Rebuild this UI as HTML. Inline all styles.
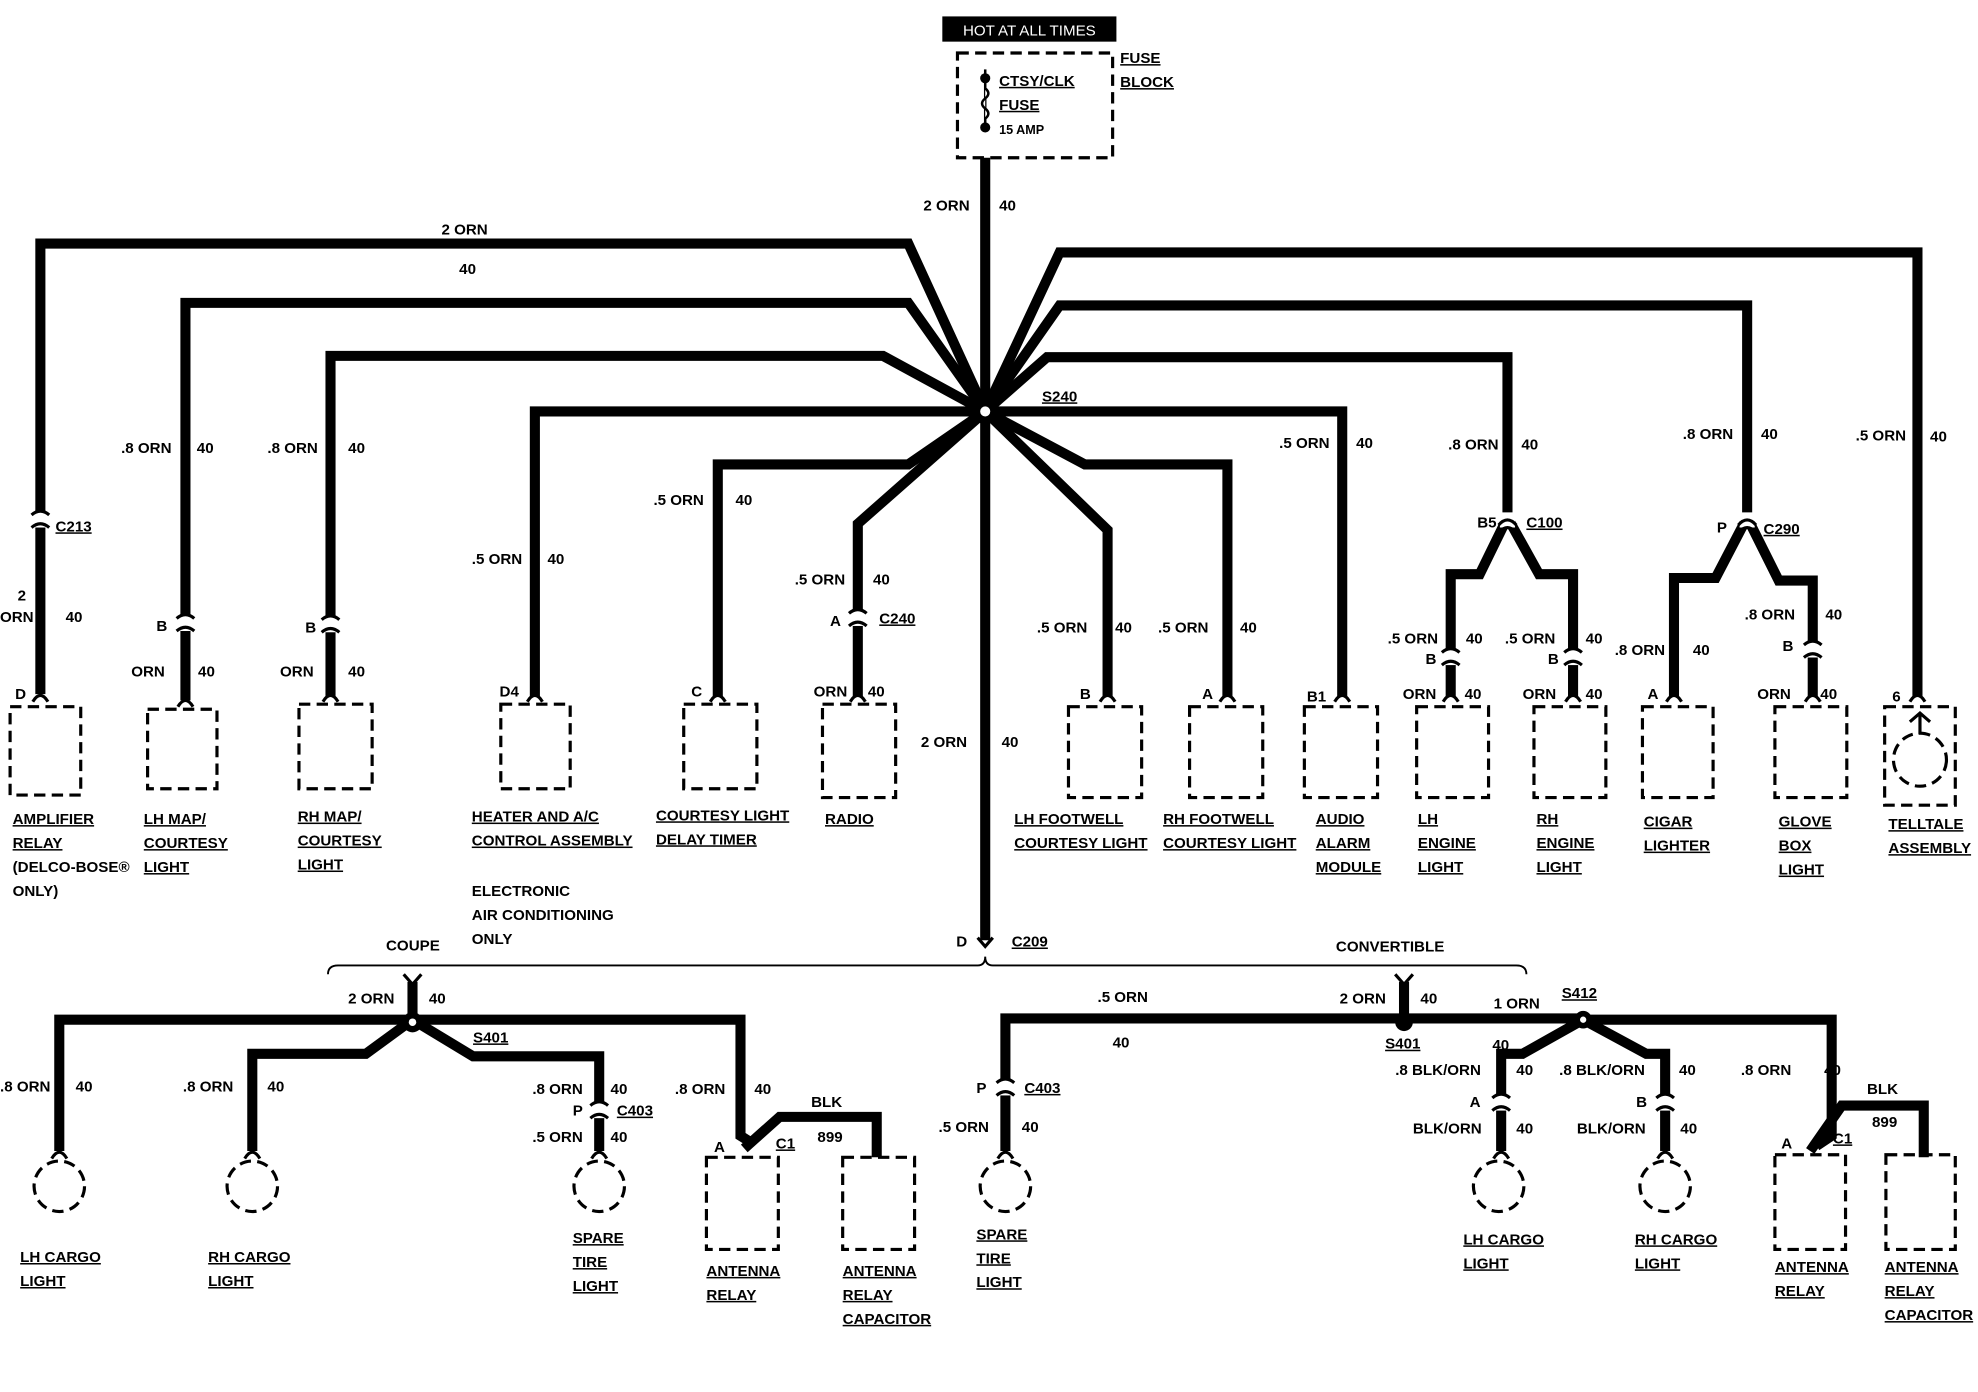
<!DOCTYPE html>
<html><head><meta charset="utf-8"><style>
html,body{margin:0;padding:0;background:#fff;}
svg{display:block;}
text{font-family:"Liberation Sans",sans-serif;font-weight:bold;font-size:12px;fill:#000;}
.w{fill:none;stroke:#000;stroke-width:8;stroke-linejoin:miter;}
.d{fill:none;stroke:#000;stroke-width:2.5;stroke-dasharray:9,5;}
.c{fill:none;stroke:#000;stroke-width:2.5;}
.u{text-decoration:underline;}
</style></head><body>
<svg width="1978" height="1392" viewBox="0 0 1568 1103" preserveAspectRatio="none" xmlns="http://www.w3.org/2000/svg">
<rect width="1568" height="1103" fill="#fff"/>
<!-- header -->
<rect x="747" y="13" width="138" height="20" fill="#000"/>
<text x="816" y="28" text-anchor="middle" style="fill:#fff;font-weight:normal;font-size:12px">HOT AT ALL TIMES</text>
<rect class="d" x="759" y="42" width="123" height="83"/>
<text x="888" y="50" class="u">FUSE</text><text x="888" y="69" class="u">BLOCK</text>
<line x1="781" y1="55" x2="781" y2="102" stroke="#000" stroke-width="2"/>
<circle cx="781" cy="62" r="4"/><circle cx="781" cy="101" r="4"/>
<path d="M781 70 q5 4 0 8 q-5 4 0 8 q5 4 0 8" fill="#fff" stroke="#000" stroke-width="2"/>
<text x="792" y="68" class="u">CTSY/CLK</text><text x="792" y="87" class="u">FUSE</text><text x="792" y="106" style="font-size:10px">15 AMP</text>
<!-- trunk -->
<path class="w" d="M781 125 V745"/>
<text x="732" y="167">2 ORN</text><text x="792" y="167">40</text>
<text x="730" y="592">2 ORN</text><text x="794" y="592">40</text>
<!-- left branches -->
<path class="w" d="M781 326 L720 193 H32 V550"/>
<path class="w" d="M781 326 L720 240 H147 V555"/>
<path class="w" d="M781 326 L700 282 H262 V552"/>
<path class="w" d="M781 326 H424 V552"/>
<path class="w" d="M781 326 L720 368 H569 V552"/>
<path class="w" d="M781 326 L680 415 V552"/>
<!-- right branches -->
<path class="w" d="M781 326 L840 200 H1520 V552"/>
<path class="w" d="M781 326 L840 242 H1385 V410 L1360 458 H1327 V552 M1385 410 L1410 460 H1437 V552"/>
<path class="w" d="M781 326 L830 283 H1195 V410 L1173 455 H1150 V552 M1195 410 L1220 455 H1247 V552"/>
<path class="w" d="M781 326 H1064 V552"/>
<path class="w" d="M781 326 L860 368 H973 V552"/>
<path class="w" d="M781 326 L878 420 V552"/>
<circle cx="781" cy="326" r="10" fill="#000"/><circle cx="781" cy="326" r="4" fill="#fff"/>
<text x="826" y="318" class="u">S240</text>
<!-- wire labels top -->
<text x="350" y="186">2 ORN</text><text x="364" y="217">40</text>
<text x="96" y="359">.8 ORN</text><text x="156" y="359">40</text>
<text x="212" y="359">.8 ORN</text><text x="276" y="359">40</text>
<text x="374" y="447">.5 ORN</text><text x="434" y="447">40</text>
<text x="518" y="400">.5 ORN</text><text x="583" y="400">40</text>
<text x="630" y="463">.5 ORN</text><text x="692" y="463">40</text>
<text x="822" y="501">.5 ORN</text><text x="884" y="501">40</text>
<text x="918" y="501">.5 ORN</text><text x="983" y="501">40</text>
<text x="1014" y="355">.5 ORN</text><text x="1075" y="355">40</text>
<text x="1148" y="356">.8 ORN</text><text x="1206" y="356">40</text>
<text x="1334" y="348">.8 ORN</text><text x="1396" y="348">40</text>
<text x="1471" y="349">.5 ORN</text><text x="1530" y="350">40</text>
<text x="14" y="476">2</text><text x="0" y="493">ORN</text><text x="52" y="493">40</text>
<text x="104" y="536">ORN</text><text x="157" y="536">40</text>
<text x="222" y="536">ORN</text><text x="276" y="536">40</text>
<text x="645" y="552">ORN</text><text x="688" y="552">40</text>
<text x="1100" y="510">.5 ORN</text><text x="1162" y="510">40</text>
<text x="1193" y="510">.5 ORN</text><text x="1257" y="510">40</text>
<text x="1112" y="554">ORN</text><text x="1161" y="554">40</text>
<text x="1207" y="554">ORN</text><text x="1257" y="554">40</text>
<text x="1280" y="519">.8 ORN</text><text x="1342" y="519">40</text>
<text x="1383" y="491">.8 ORN</text><text x="1447" y="491">40</text>
<text x="1393" y="554">ORN</text><text x="1443" y="554">40</text>
<!-- connectors top -->
<g fill="#fff" stroke="#000" stroke-width="2.5">
<rect x="26" y="406" width="12" height="12" stroke="none"/><path class="c" d="M25 408 Q32 402 39 408 M25 418 Q32 412 39 418"/>
<rect x="141" y="488" width="12" height="12" stroke="none"/><path class="c" d="M140 490 Q147 484 154 490 M140 500 Q147 494 154 500"/>
<rect x="256" y="489" width="12" height="12" stroke="none"/><path class="c" d="M255 491 Q262 485 269 491 M255 501 Q262 495 269 501"/>
<rect x="674" y="484" width="12" height="12" stroke="none"/><path class="c" d="M673 486 Q680 480 687 486 M673 496 Q680 490 687 496"/>
<rect x="1189" y="406" width="12" height="12" stroke="none"/><path class="c" d="M1188 416 Q1195 408 1202 416 M1188 422 Q1195 414 1202 422"/>
<rect x="1379" y="406" width="12" height="12" stroke="none"/><path class="c" d="M1378 416 Q1385 408 1392 416 M1378 422 Q1385 414 1392 422"/>
<rect x="1144" y="515" width="12" height="12" stroke="none"/><path class="c" d="M1143 517 Q1150 511 1157 517 M1143 527 Q1150 521 1157 527"/>
<rect x="1241" y="515" width="12" height="12" stroke="none"/><path class="c" d="M1240 517 Q1247 511 1254 517 M1240 527 Q1247 521 1254 527"/>
<rect x="1431" y="509" width="12" height="12" stroke="none"/><path class="c" d="M1430 511 Q1437 505 1444 511 M1430 521 Q1437 515 1444 521"/>
</g>
<text x="44" y="421" class="u">C213</text>
<text x="124" y="500">B</text><text x="242" y="501">B</text>
<text x="658" y="496">A</text><text x="697" y="494" class="u">C240</text>
<text x="1171" y="418">B5</text><text x="1210" y="418" class="u">C100</text>
<text x="1361" y="422">P</text><text x="1398" y="423" class="u">C290</text>
<text x="1130" y="526">B</text><text x="1227" y="526">B</text><text x="1413" y="516">B</text>
<!-- box terminals -->
<g class="c">
<path d="M26 556 Q32 546 38 556"/><path d="M141 560 Q147 550 153 560"/><path d="M256 556 Q262 546 268 556"/>
<path d="M418 556 Q424 546 430 556"/><path d="M563 556 Q569 546 575 556"/><path d="M674 556 Q680 546 686 556"/>
<path d="M872 556 Q878 546 884 556"/><path d="M967 556 Q973 546 979 556"/><path d="M1058 556 Q1064 546 1070 556"/>
<path d="M1144 556 Q1150 546 1156 556"/><path d="M1241 556 Q1247 546 1253 556"/><path d="M1321 556 Q1327 546 1333 556"/>
<path d="M1431 556 Q1437 546 1443 556"/><path d="M1514 556 Q1520 546 1526 556"/>
</g>
<text x="12" y="554">D</text><text x="396" y="552">D4</text><text x="548" y="552">C</text>
<text x="856" y="554">B</text><text x="953" y="554">A</text><text x="1036" y="556">B1</text>
<text x="1306" y="554">A</text><text x="1500" y="556">6</text>
<!-- boxes -->
<rect class="d" x="8" y="560" width="56" height="70"/>
<rect class="d" x="117" y="562" width="55" height="63"/>
<rect class="d" x="237" y="558" width="58" height="67"/>
<rect class="d" x="397" y="558" width="55" height="67"/>
<rect class="d" x="542" y="558" width="58" height="67"/>
<rect class="d" x="652" y="558" width="58" height="74"/>
<rect class="d" x="847" y="560" width="58" height="72"/>
<rect class="d" x="943" y="560" width="58" height="72"/>
<rect class="d" x="1034" y="560" width="58" height="72"/>
<rect class="d" x="1123" y="560" width="57" height="72"/>
<rect class="d" x="1216" y="560" width="57" height="72"/>
<rect class="d" x="1302" y="560" width="56" height="72"/>
<rect class="d" x="1407" y="560" width="57" height="72"/>
<rect class="d" x="1494" y="560" width="56" height="78"/>
<circle class="d" cx="1522" cy="602" r="21"/>
<path class="c" d="M1522 565 V582 M1514 572 L1522 565 L1530 572"/>
<!-- box labels -->
<g class="u">
<text x="10" y="653">AMPLIFIER</text><text x="10" y="672">RELAY</text>
<text x="114" y="653">LH MAP/</text><text x="114" y="672">COURTESY</text><text x="114" y="691">LIGHT</text>
<text x="236" y="651">RH MAP/</text><text x="236" y="670">COURTESY</text><text x="236" y="689">LIGHT</text>
<text x="374" y="651">HEATER AND A/C</text><text x="374" y="670">CONTROL ASSEMBLY</text>
<text x="520" y="650">COURTESY LIGHT</text><text x="520" y="669">DELAY TIMER</text>
<text x="654" y="653">RADIO</text>
<text x="804" y="653">LH FOOTWELL</text><text x="804" y="672">COURTESY LIGHT</text>
<text x="922" y="653">RH FOOTWELL</text><text x="922" y="672">COURTESY LIGHT</text>
<text x="1043" y="653">AUDIO</text><text x="1043" y="672">ALARM</text><text x="1043" y="691">MODULE</text>
<text x="1124" y="653">LH</text><text x="1124" y="672">ENGINE</text><text x="1124" y="691">LIGHT</text>
<text x="1218" y="653">RH</text><text x="1218" y="672">ENGINE</text><text x="1218" y="691">LIGHT</text>
<text x="1303" y="655">CIGAR</text><text x="1303" y="674">LIGHTER</text>
<text x="1410" y="655">GLOVE</text><text x="1410" y="674">BOX</text><text x="1410" y="693">LIGHT</text>
<text x="1497" y="657">TELLTALE</text><text x="1497" y="676">ASSEMBLY</text>
</g>
<text x="10" y="691">(DELCO-BOSE®</text><text x="10" y="710">ONLY)</text>
<text x="374" y="710">ELECTRONIC</text><text x="374" y="729">AIR CONDITIONING</text><text x="374" y="748">ONLY</text>
<!-- C209 -->
<text x="758" y="750">D</text><text x="802" y="750" class="u">C209</text>
<path class="c" d="M775 743 L781 750 L787 743"/>
<path d="M260 772 Q260 765 268 765 H775 Q781 765 781 758 Q781 765 787 765 H1202 Q1210 765 1210 772" fill="none" stroke="#000" stroke-width="1.5"/>
<text x="306" y="753">COUPE</text><text x="1059" y="754">CONVERTIBLE</text>
<!-- coupe -->
<path class="w" d="M327 778 V808"/>
<path class="c" d="M320 772 L327 780 L334 772"/>
<path class="w" d="M327 808 H47 V912"/>
<path class="w" d="M327 808 L290 835 H200 V912"/>
<path class="w" d="M327 808 L375 837 H475 V912"/>
<path class="w" d="M327 808 H587 V900 L595 905"/>
<path class="w" d="M590 910 L618 885 H695 V917"/>
<circle cx="327" cy="810" r="8" fill="#000"/><circle cx="327" cy="810" r="3" fill="#fff"/>
<text x="276" y="795">2 ORN</text><text x="340" y="795">40</text>
<text x="375" y="826" class="u">S401</text>
<text x="0" y="865">.8 ORN</text><text x="60" y="865">40</text>
<text x="145" y="865">.8 ORN</text><text x="212" y="865">40</text>
<text x="422" y="867">.8 ORN</text><text x="484" y="867">40</text>
<text x="454" y="884">P</text><text x="489" y="884" class="u">C403</text>
<text x="422" y="905">.5 ORN</text><text x="484" y="905">40</text>
<text x="535" y="867">.8 ORN</text><text x="598" y="867">40</text>
<text x="643" y="877">BLK</text><text x="648" y="905">899</text>
<text x="566" y="913">A</text><text x="615" y="910" class="u">C1</text>
<rect x="469" y="874" width="12" height="12" fill="#fff"/><path class="c" d="M468 876 Q475 870 482 876 M468 886 Q475 880 482 886"/>
<g class="c"><path d="M41 918 Q47 908 53 918"/><path d="M194 918 Q200 908 206 918"/><path d="M469 918 Q475 908 481 918"/></g>
<circle class="d" cx="47" cy="940" r="20"/><circle class="d" cx="200" cy="940" r="20"/><circle class="d" cx="475" cy="940" r="20"/>
<rect class="d" x="560" y="917" width="57" height="73"/><rect class="d" x="668" y="917" width="57" height="73"/>
<g class="u">
<text x="16" y="1000">LH CARGO</text><text x="16" y="1019">LIGHT</text>
<text x="165" y="1000">RH CARGO</text><text x="165" y="1019">LIGHT</text>
<text x="454" y="985">SPARE</text><text x="454" y="1004">TIRE</text><text x="454" y="1023">LIGHT</text>
<text x="560" y="1011">ANTENNA</text><text x="560" y="1030">RELAY</text>
<text x="668" y="1011">ANTENNA</text><text x="668" y="1030">RELAY</text><text x="668" y="1049">CAPACITOR</text>
</g>
<!-- convertible -->
<path class="w" d="M1113 778 V808"/>
<path class="c" d="M1106 772 L1113 780 L1120 772"/>
<path class="w" d="M1113 807 H797 V912"/>
<path class="w" d="M1113 807 H1255"/>
<path class="w" d="M1255 808 L1207 835 H1190 V912"/>
<path class="w" d="M1255 808 L1305 835 H1320 V912"/>
<path class="w" d="M1255 808 H1452 V900 L1440 908"/>
<path class="w" d="M1435 912 L1460 876 H1525 V917"/>
<circle cx="1113" cy="810" r="7" fill="#000"/>
<circle cx="1255" cy="808" r="7" fill="#000"/><circle cx="1255" cy="808" r="2.5" fill="#fff"/>
<text x="1062" y="795">2 ORN</text><text x="1126" y="795">40</text>
<text x="1098" y="831" class="u">S401</text>
<text x="870" y="794">.5 ORN</text><text x="882" y="830">40</text>
<text x="1184" y="799">1 ORN</text><text x="1238" y="791" class="u">S412</text>
<text x="1183" y="832">40</text>
<text x="1106" y="852">.8 BLK/ORN</text><text x="1202" y="852">40</text>
<text x="1236" y="852">.8 BLK/ORN</text><text x="1331" y="852">40</text>
<text x="1380" y="852">.8 ORN</text><text x="1446" y="852">40</text>
<text x="1480" y="867">BLK</text><text x="1484" y="893">899</text>
<text x="1412" y="910">A</text><text x="1453" y="906" class="u">C1</text>
<text x="774" y="866">P</text><text x="812" y="866" class="u">C403</text>
<text x="744" y="897">.5 ORN</text><text x="810" y="897">40</text>
<text x="1165" y="877">A</text><text x="1297" y="877">B</text>
<text x="1120" y="898">BLK/ORN</text><text x="1202" y="898">40</text>
<text x="1250" y="898">BLK/ORN</text><text x="1332" y="898">40</text>
<rect x="791" y="856" width="12" height="12" fill="#fff"/><path class="c" d="M790 858 Q797 852 804 858 M790 868 Q797 862 804 868"/>
<rect x="1184" y="868" width="12" height="12" fill="#fff"/><path class="c" d="M1183 870 Q1190 864 1197 870 M1183 880 Q1190 874 1197 880"/>
<rect x="1314" y="868" width="12" height="12" fill="#fff"/><path class="c" d="M1313 870 Q1320 864 1327 870 M1313 880 Q1320 874 1327 880"/>
<g class="c"><path d="M791 918 Q797 908 803 918"/><path d="M1184 918 Q1190 908 1196 918"/><path d="M1314 918 Q1320 908 1326 918"/></g>
<circle class="d" cx="797" cy="940" r="20"/><circle class="d" cx="1188" cy="940" r="20"/><circle class="d" cx="1320" cy="940" r="20"/>
<rect class="d" x="1407" y="915" width="56" height="75"/><rect class="d" x="1495" y="915" width="55" height="75"/>
<g class="u">
<text x="774" y="982">SPARE</text><text x="774" y="1001">TIRE</text><text x="774" y="1020">LIGHT</text>
<text x="1160" y="986">LH CARGO</text><text x="1160" y="1005">LIGHT</text>
<text x="1296" y="986">RH CARGO</text><text x="1296" y="1005">LIGHT</text>
<text x="1407" y="1008">ANTENNA</text><text x="1407" y="1027">RELAY</text>
<text x="1494" y="1008">ANTENNA</text><text x="1494" y="1027">RELAY</text><text x="1494" y="1046">CAPACITOR</text>
</g>
</svg>
</body></html>
